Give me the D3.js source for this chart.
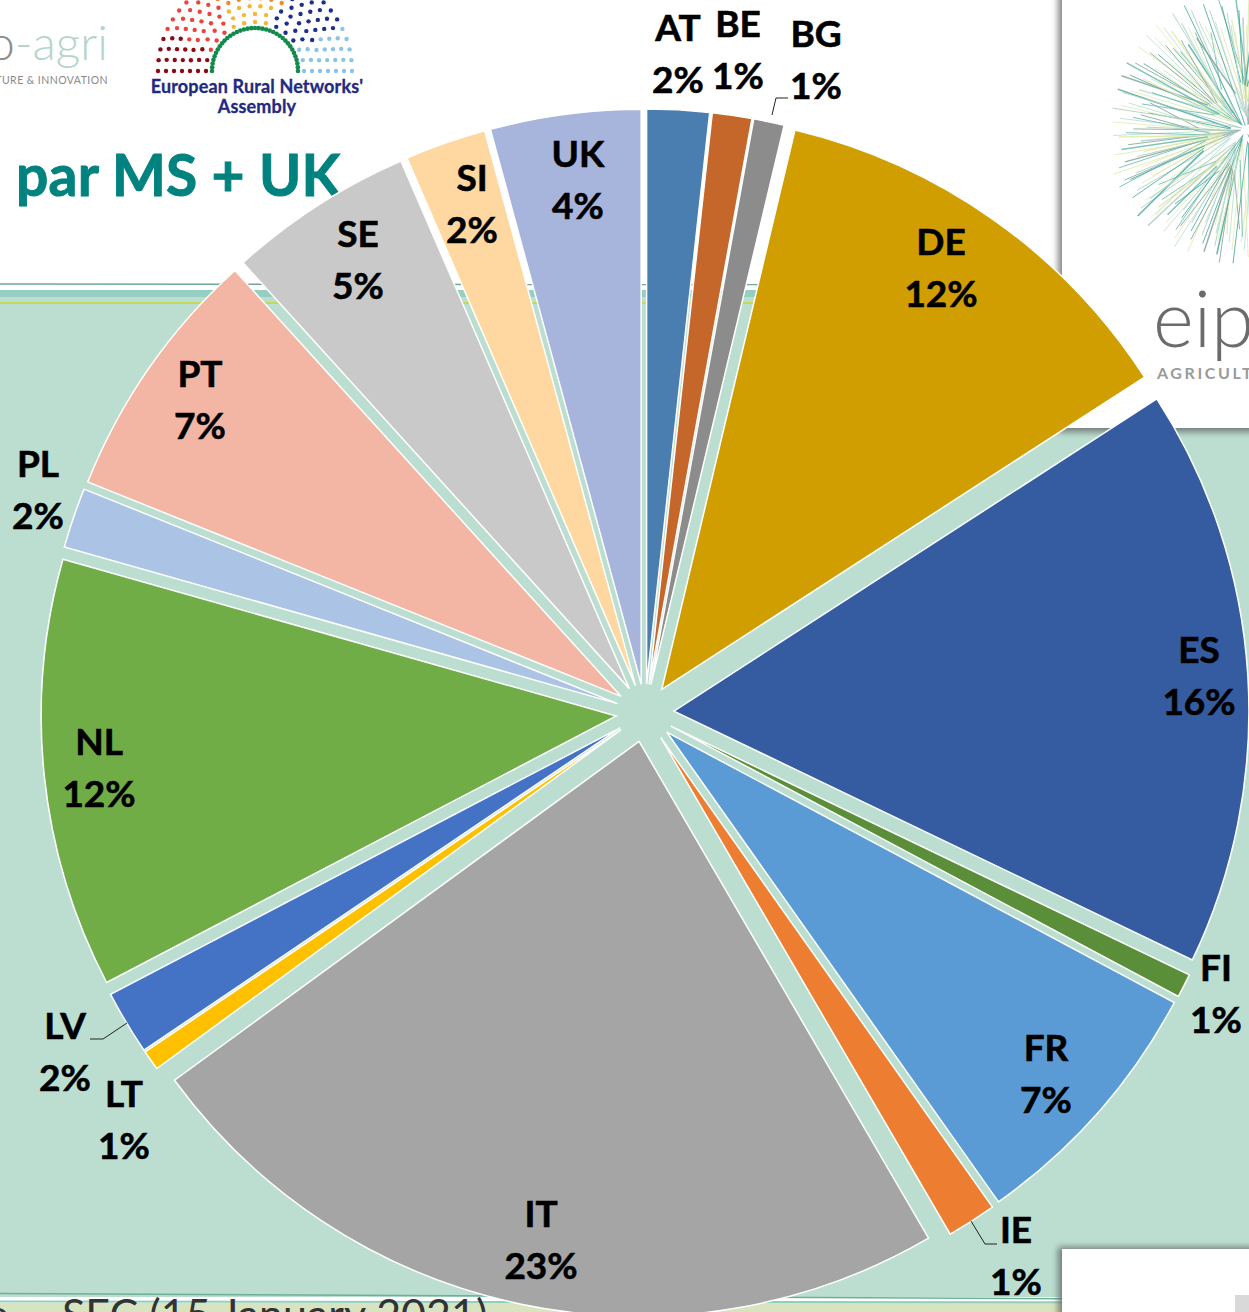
<!DOCTYPE html>
<html>
<head>
<meta charset="utf-8">
<title>par MS + UK</title>
<script src="https://cdn.jsdelivr.net/npm/d3@7"></script>
<style>
	html, body { margin: 0; padding: 0; background: white; overflow: hidden; }
	svg { display: block; }
	text { font-family: Lato, "Open Sans", sans-serif; }
</style>
</head>
<body>
<div id="root"></div>
<script>
//member states, clockwise from 12 o'clock
const countries = ["AT", "BE", "BG", "DE", "ES", "FI", "FR", "IE", "IT", "LT", "LV", "NL", "PL", "PT", "SE", "SI", "UK"];

//shares (%)
const shares = [1.75, 1.11, 0.86, 12.14, 16.25, 0.67, 7.42, 1.39, 23.36, 0.56, 1.80, 12.06, 1.69, 7.19, 5.22, 2.28, 4.22];

//labels as printed on the chart
const shareLabels = ["2%", "1%", "1%", "12%", "16%", "1%", "7%", "1%", "23%", "1%", "2%", "12%", "2%", "7%", "5%", "2%", "4%"];

const sliceColors = ["#4a7eb0", "#c5672a", "#8c8c8c", "#d09e00", "#355ca0", "#5b8e38", "#5b9bd5", "#ed7d31", "#a5a5a5", "#ffc000", "#4472c4", "#70ad47", "#abc3e4", "#f4b6a4", "#c9c9c9", "#ffd7a0", "#a7b4db"];

//label position [x centre, baseline of the country code], hand placed like in the slide
const labelSpots = {
	AT: [678, 41], BE: [738, 37], BG: [816, 47], DE: [941, 255], ES: [1199, 663], FI: [1216, 981],
	FR: [1046, 1061], IE: [1016, 1243], IT: [541, 1227], LT: [124, 1107], LV: [65, 1039], NL: [99, 755],
	PL: [38, 477], PT: [200, 387], SE: [358, 247], SI: [472, 191], UK: [578, 167]
};

//leader lines of the small slices
const leaderLines = [
	[[772, 115], [776, 98], [788, 98]],
	[[127, 1023], [103, 1039], [90, 1039]],
	[[971, 1221], [985, 1244], [997, 1244]]
];

const width = 1249;
const height = 1312;
const cx = 645;
const cy = 713;
const radius = 575;
const explode = 29;

const svg = d3.select("#root")
	.append("svg")
	.attr("width", width)
	.attr("height", height)
	.attr("style", "background-color: white;");

const defs = svg.append("defs");
const blur = defs.append("filter").attr("id", "shadow")
	.attr("x", "-20%").attr("y", "-20%").attr("width", "140%").attr("height", "140%");
blur.append("feGaussianBlur").attr("stdDeviation", 3);

/* ---- slide background ---- */
const bg = svg.append("g");
bg.append("rect").attr("x", 0).attr("y", 297).attr("width", width).attr("height", 1000).attr("fill", "#bbded1");
bg.append("line").attr("x1", 0).attr("x2", width).attr("y1", 284).attr("y2", 285).attr("stroke", "#6fa98f").attr("stroke-width", 1.5);
bg.append("rect").attr("x", 0).attr("y", 290).attr("width", width).attr("height", 7).attr("fill", "#96cfc1");
bg.append("line").attr("x1", 0).attr("x2", width).attr("y1", 303).attr("y2", 303).attr("stroke", "#c6d72e").attr("stroke-width", 1.5);

//bottom band, slide is a little tilted
bg.append("rect").attr("x", 0).attr("y", 1303).attr("width", width).attr("height", 9).attr("fill", "#d8e4bf");
bg.append("line").attr("x1", 0).attr("x2", width).attr("y1", 1293.5).attr("y2", 1299.5).attr("stroke", "#6fb095").attr("stroke-width", 1.5);
bg.append("line").attr("x1", 0).attr("x2", width).attr("y1", 1301.5).attr("y2", 1302.5).attr("stroke", "#8fcfc0").attr("stroke-width", 2);

//clipped line of text at the very bottom
bg.append("text").attr("x", 62).attr("y", 1330).attr("font-size", 43).attr("fill", "#333").text("SEC (15 January 2021)");
bg.append("text").attr("x", -14).attr("y", 1330).attr("font-size", 43).attr("fill", "#333").text("e");

/* ---- white panels with shadow ---- */
function panel(x, y, w, h) {
	svg.append("rect").attr("x", x - 4).attr("y", y - 2).attr("width", w + 4).attr("height", h + 6)
		.attr("fill", "#555").attr("opacity", 0.7).attr("filter", "url(#shadow)");
	svg.append("rect").attr("x", x).attr("y", y).attr("width", w).attr("height", h).attr("fill", "white");
}
panel(1062, -20, 220, 448);
panel(1062, 1249, 220, 100);
svg.append("rect").attr("x", 1235).attr("y", 1295).attr("width", 14).attr("height", 17).attr("fill", "#d9d9d9");

/* ---- eip-agri logos ---- */
//starburst, rays follow a fixed golden angle walk and cross near the middle
const burst = svg.append("g").attr("transform", "translate(1246,130)");
const rayColors = ["#5fb8a8", "#e1ecb0", "#7f9f96", "#b4dfd2", "#3fa596", "#dfe9a8", "#a9c9bd"];
d3.range(260).forEach(function(i) {
	const a = i * 2.39996;
	const far = 98 + 42 * ((i * 0.7548) % 1);
	const near = 4 + 45 * ((i * 0.5698) % 1);
	const skew = 0.5 * (((i * 0.3247) % 1) - 0.5);
	burst.append("line")
		.attr("x1", near * Math.cos(a + skew)).attr("y1", near * Math.sin(a + skew))
		.attr("x2", far * Math.cos(a)).attr("y2", far * Math.sin(a))
		.attr("stroke", rayColors[i % rayColors.length])
		.attr("stroke-width", i % 5 === 0 ? 1.5 : 1)
		.attr("opacity", 0.8);
});
svg.append("text").attr("x", 1153).attr("y", 347).attr("font-size", 78).attr("font-weight", 300).attr("fill", "#6b6b6b").text("eip");
svg.append("text").attr("x", 1157).attr("y", 379).attr("font-size", 16).attr("font-weight", 700).attr("letter-spacing", 2.6).attr("fill", "#9a9a9a").text("AGRICULTURE");

const agri = svg.append("text").attr("x", 108).attr("y", 60).attr("text-anchor", "end").attr("font-size", 48).attr("font-weight", 300);
agri.append("tspan").attr("fill", "#8c8c8c").text("o");
agri.append("tspan").attr("fill", "#b7d4cb").text("-agri");
svg.append("text").attr("x", 108).attr("y", 84).attr("text-anchor", "end").attr("font-size", 10.5).attr("letter-spacing", 0.45).attr("fill", "#8a8a8a").text("TURE & INNOVATION");

/* ---- rural networks assembly logo, hemicycle of dots ---- */
const hemi = svg.append("g").attr("transform", "translate(255,71)");
function seatColor(deg, row) {
	if (deg < 24) return "#8b0a14";
	if (deg < 62) return "#e8453f";
	if (deg < 112) return row < 3 ? "#f2b733" : "#f08a32";
	if (deg < 152) return "#1c2f8a";
	return "#8cc4e8";
}
d3.range(7).forEach(function(row) {
	const r = 49 + row * 8;
	const seats = Math.round(Math.PI * r / 11);
	d3.range(seats + 1).forEach(function(s) {
		const deg = s / seats * 180;
		const a = Math.PI - deg * Math.PI / 180;
		hemi.append("circle")
			.attr("cx", r * Math.cos(a)).attr("cy", -r * Math.sin(a))
			.attr("r", 2.2).attr("fill", seatColor(deg, row));
	});
});
d3.range(37).forEach(function(s) {
	const a = s / 36 * Math.PI;
	hemi.append("circle").attr("cx", 43 * Math.cos(a)).attr("cy", -43 * Math.sin(a)).attr("r", 2.3).attr("fill", "#128a4c");
});
svg.append("g")
	.attr("text-anchor", "middle").attr("font-size", 18).attr("font-weight", 700)
	.attr("letter-spacing", 0.15).attr("fill", "#1f2a80").attr("stroke", "#1f2a80").attr("stroke-width", 0.3)
	.call(function(g) {
		g.append("text").attr("x", 257).attr("y", 92.5).text("European Rural Networks'");
		g.append("text").attr("x", 257).attr("y", 113).text("Assembly");
	});

/* ---- title ---- */
svg.append("text").attr("x", 16).attr("y", 196).attr("font-size", 57).attr("font-weight", 700)
	.attr("letter-spacing", 0.2).attr("fill", "#00827f").attr("stroke", "#00827f").attr("stroke-width", 0.9).text("par MS + UK");

/* ---- pie ---- */
const pie = d3.pie().sort(null).value(function(d) { return d.share; });
const arc = d3.arc().innerRadius(0).outerRadius(radius);
const rows = countries.map(function(c, i) {
	return { country: c, share: shares[i], label: shareLabels[i], color: sliceColors[i] };
});

svg.append("g")
	.attr("transform", "translate(" + cx + "," + cy + ")")
	.selectAll("path")
	.data(pie(rows))
	.enter()
	.append("path")
	.attr("d", arc)
	.attr("fill", function(d) { return d.data.color; })
	.attr("stroke", "white")
	.attr("stroke-width", 1.5)
	.attr("stroke-linejoin", "miter")
	.attr("transform", function(d) {
		//every slice is pulled out along its own mid angle
		const mid = (d.startAngle + d.endAngle) / 2;
		return "translate(" + explode * Math.sin(mid) + "," + (-explode * Math.cos(mid)) + ")";
	});

/* ---- leader lines and labels ---- */
svg.append("g").selectAll("path")
	.data(leaderLines)
	.enter()
	.append("path")
	.attr("d", d3.line())
	.attr("fill", "none")
	.attr("stroke", "#222")
	.attr("stroke-width", 1);

const labels = svg.append("g")
	.selectAll("g")
	.data(rows)
	.enter()
	.append("g")
	.attr("transform", function(d) { return "translate(" + labelSpots[d.country][0] + "," + labelSpots[d.country][1] + ")"; })
	.attr("text-anchor", "middle")
	.attr("font-size", 37)
	.attr("font-weight", 700)
	.attr("fill", "black")
	.attr("stroke", "black")
	.attr("stroke-width", 0.6);
labels.append("text").text(function(d) { return d.country; });
labels.append("text").attr("y", 52).text(function(d) { return d.label; });
</script>
</body>
</html>
